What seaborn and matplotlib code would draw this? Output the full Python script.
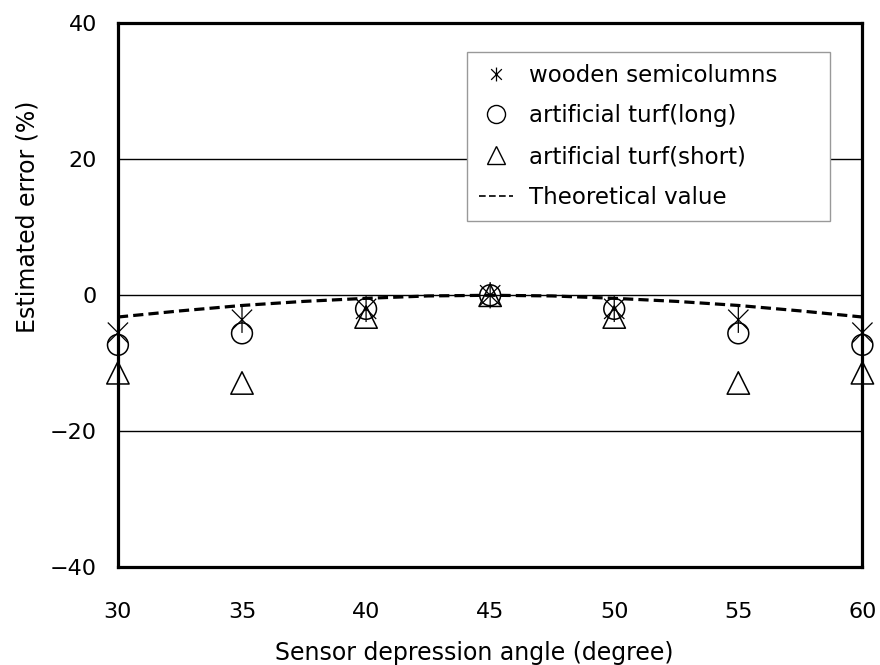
import numpy as np
import pandas as pd
import matplotlib
matplotlib.use("Agg")
import matplotlib.pyplot as plt
from matplotlib.path import Path
from matplotlib.lines import Line2D
import seaborn as sns

# ---- data ----
angles = [30, 35, 40, 45, 50, 55, 60]
wooden = [-5.5, -3.6, -2.0, 0.0, -2.0, -3.6, -5.5]
turf_long = [-7.3, -5.6, -2.0, 0.0, -2.0, -5.6, -7.3]
turf_short = [-11.4, -12.9, -3.2, 0.0, -3.2, -12.9, -11.4]
theory_x = [30, 32.5, 35, 37.5, 40, 42.5, 45, 47.5, 50, 52.5, 55, 57.5, 60]
theory_y = [-3.2, -2.3, -1.5, -0.9, -0.45, -0.1, 0.0, -0.1, -0.45, -0.9, -1.5, -2.3, -3.2]
xticks = [30, 35, 40, 45, 50, 55, 60]
yticks = [-40, -20, 0, 20, 40]
ytick_labels = ["−40", "−20", "0", "20", "40"]
labels = ["wooden semicolumns", "artificial turf(long)", "artificial turf(short)", "Theoretical value"]

sns.set_theme(style="white")
plt.rcParams['font.family'] = ['DejaVu Sans', 'Noto Sans CJK JP']
plt.rcParams['text.color'] = 'black'

fig = plt.figure(figsize=(8.8, 6.65), dpi=100)
ax = fig.add_axes([0.134, 0.147, 0.846, 0.818])

# asterisk marker: X plus vertical bar
star = Path([(-1, -1), (1, 1), (-1, 1), (1, -1), (0, -1.3), (0, 1.3)],
            [Path.MOVETO, Path.LINETO, Path.MOVETO, Path.LINETO, Path.MOVETO, Path.LINETO])

for yv in [20, 0, -20]:
    ax.axhline(yv, color="black", lw=1.0, zorder=1)

sns.lineplot(x=theory_x, y=theory_y, ax=ax, color="black", lw=2.3,
             linestyle=(0, (3.2, 1.6)), zorder=3)
sns.scatterplot(x=angles, y=wooden, ax=ax, marker=star, s=360,
                facecolors="none", edgecolor="black", linewidth=0.9, zorder=4,
                clip_on=False)
sns.scatterplot(x=angles, y=turf_long, ax=ax, marker="o", s=225,
                facecolors="none", edgecolor="black", linewidth=1.1, zorder=4,
                clip_on=False)
sns.scatterplot(x=angles, y=turf_short, ax=ax, marker="^", s=260,
                facecolors="none", edgecolor="black", linewidth=1.1, zorder=4,
                clip_on=False)

ax.set_xlim(30, 60)
ax.set_ylim(-40, 40)
ax.set_xticks(xticks)
ax.set_yticks(yticks)
ax.set_xticklabels([str(v) for v in xticks])
ax.set_yticklabels(ytick_labels)
ax.tick_params(axis="both", direction="in", length=6, width=2, colors="black",
               labelsize=16)
ax.tick_params(axis="y", pad=15)
ax.tick_params(axis="x", pad=25)
for sp in ax.spines.values():
    sp.set_color("black")
    sp.set_linewidth(2.3)
    sp.set_zorder(5)

ax.set_xlabel("Sensor depression angle (degree)", fontsize=17, color="black")
ax.set_ylabel("Estimated error (%)", fontsize=17, color="black")
ax.xaxis.set_label_coords(0.478, -0.136)
ax.yaxis.set_label_coords(-0.105, 0.645)

handles = [
    Line2D([], [], linestyle="none", marker=star, markersize=10, markerfacecolor="none",
           markeredgecolor="black", markeredgewidth=0.9),
    Line2D([], [], linestyle="none", marker="o", markersize=13, markerfacecolor="none",
           markeredgecolor="black", markeredgewidth=1.0),
    Line2D([], [], linestyle="none", marker="^", markersize=13, markerfacecolor="none",
           markeredgecolor="black", markeredgewidth=1.0),
    Line2D([], [], color="black", lw=1.2, linestyle=(0, (4, 2))),
]
leg = ax.legend(handles, labels, loc="upper left",
                bbox_to_anchor=(0.469, 0.632, 0.487, 0.315), mode="expand",
                borderaxespad=0, fontsize=16.5, frameon=True, fancybox=False,
                edgecolor="#999999", framealpha=1, handlelength=1.5,
                handletextpad=0.7, labelspacing=0.78, borderpad=0.5,
                labelcolor="black")
leg.get_frame().set_linewidth(1.0)
leg.set_zorder(6)

fig.savefig("out.png", dpi=100, facecolor="white")
